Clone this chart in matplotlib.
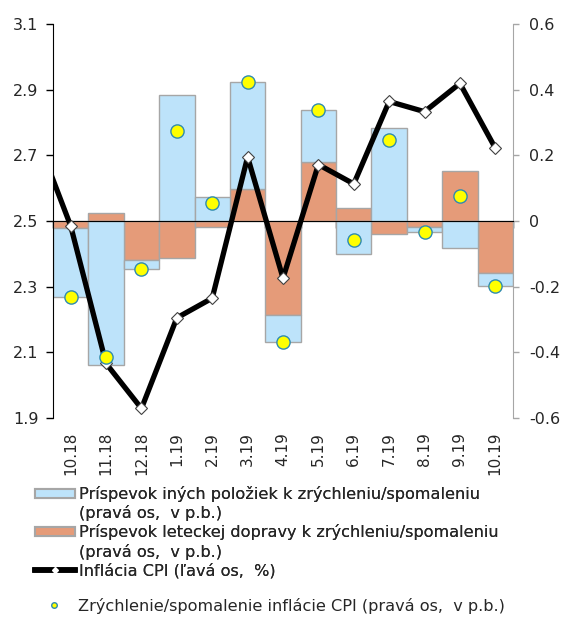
import matplotlib
matplotlib.use("Agg")
import matplotlib.pyplot as plt
from matplotlib.patches import Patch
from matplotlib.lines import Line2D
from matplotlib.ticker import FixedLocator, FixedFormatter
import numpy as np

plt.rcParams['font.family'] = ['DejaVu Sans']

months = ['10.18', '11.18', '12.18', '1.19', '2.19', '3.19', '4.19',
          '5.19', '6.19', '7.19', '8.19', '9.19', '10.19']
other_items = [-0.21, -0.44, -0.027, 0.384, 0.073, 0.325, -0.083,
               0.158, -0.101, 0.283, -0.014, -0.081, -0.040]
air_transport = [-0.020, 0.023, -0.119, -0.113, -0.018, 0.097, -0.286,
                 0.180, 0.040, -0.040, -0.018, 0.152, -0.157]
acceleration = [-0.232, -0.414, -0.146, 0.273, 0.055, 0.422, -0.369,
                0.338, -0.058, 0.247, -0.035, 0.075, -0.197]
# CPI including the preceding month (9.18), which lies outside the plot
cpi_months = ['9.18'] + months
cpi = [2.767, 2.485, 2.066, 1.929, 2.205, 2.265, 2.695, 2.326,
       2.672, 2.613, 2.864, 2.833, 2.919, 2.722]

left_ticks = [1.9, 2.1, 2.3, 2.5, 2.7, 2.9, 3.1]
left_labels = ['1.9', '2.1', '2.3', '2.5', '2.7', '2.9', '3.1']
right_ticks = [-0.6, -0.4, -0.2, 0.0, 0.2, 0.4, 0.6]
right_labels = ['-0.6', '-0.4', '-0.2', '0', '0.2', '0.4', '0.6']

BLUE = '#BDE3FA'
ORANGE = '#E59B79'
EDGE = '#A6A6A6'
TXT = '#262626'
YFS = 11.5
XFS = 11
LEGFS = 11.6

fig = plt.figure(figsize=(5.67, 6.19), dpi=100)
rect = [53/567, (619-418)/619, (513-53)/567, 394/619]
ax_bar = fig.add_axes(rect)
ax_line = ax_bar.twinx()
ax_dot = ax_bar.twinx()

x = np.arange(len(months))
other = np.array(other_items)
air = np.array(air_transport)
blue_bottom = np.where(np.sign(other) == np.sign(air), air, 0.0)

ax_bar.bar(x, air, width=1.0, color=ORANGE, edgecolor=EDGE, linewidth=1.0, zorder=2)
ax_bar.bar(x, other, bottom=blue_bottom, width=1.0, color=BLUE,
           edgecolor=EDGE, linewidth=1.0, zorder=2)
ax_bar.set_ylim(-0.6, 0.6)
ax_bar.set_xlim(-0.5, len(months) - 0.5)

# right axis on ax_bar
ax_bar.yaxis.tick_right()
ax_bar.yaxis.set_major_locator(FixedLocator(right_ticks))
ax_bar.yaxis.set_major_formatter(FixedFormatter(right_labels))
ax_bar.tick_params(axis='y', direction='out', length=4.5, width=1,
                   color=EDGE, labelcolor=TXT, labelsize=YFS, pad=7,
                   left=False, labelleft=False, right=True, labelright=True)
for s in ['top', 'left']:
    ax_bar.spines[s].set_visible(False)
ax_bar.spines['right'].set_color(EDGE)
ax_bar.spines['bottom'].set_position(('data', 0))
ax_bar.spines['bottom'].set_color('black')
ax_bar.spines['bottom'].set_zorder(3)

# x ticks: categories (major) and boundaries (minor)
ax_bar.xaxis.set_major_locator(FixedLocator(list(x)))
ax_bar.xaxis.set_major_formatter(FixedFormatter(months))
ax_bar.xaxis.set_minor_locator(FixedLocator(list(np.arange(len(months) + 1) - 0.5)))
ax_bar.tick_params(axis='x', which='major', length=0, labelbottom=False)
ax_bar.tick_params(axis='x', which='minor', length=5, width=1, color='black',
                   direction='out')

# left axis with CPI line
ax_line.xaxis.set_visible(True)
ax_line.yaxis.tick_left()
ax_line.set_ylim(1.9, 3.1)
ax_line.set_xlim(-0.5, len(months) - 0.5)
ax_line.yaxis.set_major_locator(FixedLocator(left_ticks))
ax_line.yaxis.set_major_formatter(FixedFormatter(left_labels))
ax_line.tick_params(axis='y', direction='out', length=5, width=1,
                    color='black', labelcolor=TXT, labelsize=YFS, pad=5.5,
                    left=True, labelleft=True, right=False, labelright=False)
ax_line.tick_params(axis='x', which='major', length=0, labelbottom=True,
                    labelrotation=90, labelsize=XFS, labelcolor=TXT, pad=10)
ax_line.tick_params(axis='x', which='minor', length=0, labelbottom=False)
for s in ['top', 'right', 'bottom']:
    ax_line.spines[s].set_visible(False)
ax_line.spines['left'].set_color('black')
cx = np.arange(len(cpi_months)) - 1
ax_line.plot(cx, cpi, color='black', linewidth=3.8, marker='D', markersize=6,
             markerfacecolor='white', markeredgecolor='#404040',
             markeredgewidth=0.8, solid_joinstyle='round', zorder=3)

# dots on right scale
ax_dot.set_ylim(-0.6, 0.6)
ax_dot.set_xlim(-0.5, len(months) - 0.5)
ax_dot.axis('off')
ax_dot.plot(x, acceleration, linestyle='none', marker='o', markersize=9.5,
            markerfacecolor='#FFFF00', markeredgecolor='#2E8BB0',
            markeredgewidth=1.0, zorder=4)

# legend
handles = [
    Patch(facecolor=BLUE, edgecolor=EDGE, linewidth=1.5),
    Line2D([], [], linestyle='none'),
    Patch(facecolor=ORANGE, edgecolor=EDGE, linewidth=1.5),
    Line2D([], [], linestyle='none'),
    Line2D([], [], color='black', linewidth=4, marker='D', markersize=3,
           markerfacecolor='white', markeredgecolor='white'),
]
labels = [
    'Príspevok iných položiek k zrýchleniu/spomaleniu',
    '(pravá os,  v p.b.)',
    'Príspevok leteckej dopravy k zrýchleniu/spomaleniu',
    '(pravá os,  v p.b.)',
    'Inflácia CPI (ľavá os,  %)',
]
leg1 = fig.legend(handles, labels, loc='upper left',
                  bbox_to_anchor=(27/567, 1 - 478/619), frameon=False,
                  fontsize=LEGFS, handlelength=2.5, handleheight=0.5,
                  handletextpad=0.25, labelspacing=0.2, borderpad=0,
                  labelcolor=TXT)
fig.add_artist(leg1)
h2 = [Line2D([], [], linestyle='none', marker='o', markersize=4,
             markerfacecolor='#FFFF00', markeredgecolor='#2E8BB0',
             markeredgewidth=1.0)]
leg2 = fig.legend(h2, ['Zrýchlenie/spomalenie inflácie CPI (pravá os,  v p.b.)'],
                  loc='upper left', bbox_to_anchor=(26/567, 1 - 590/619),
                  frameon=False, fontsize=LEGFS, handlelength=2.5,
                  handletextpad=0.25, borderpad=0, labelcolor=TXT)

fig.savefig('out.png', dpi=100)
